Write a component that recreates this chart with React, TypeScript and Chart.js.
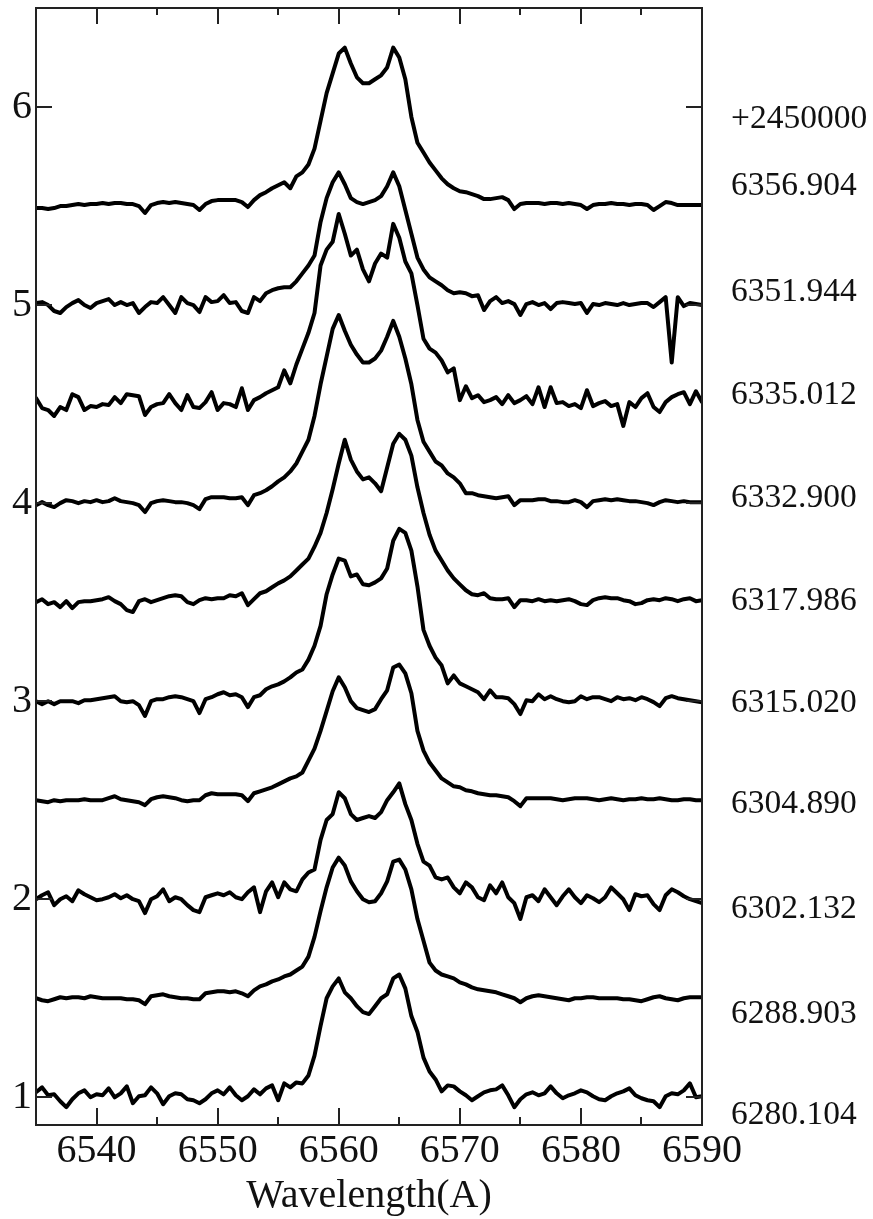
import { useEffect, useRef } from "react";
import { Chart, registerables } from "chart.js";

Chart.register(...registerables);

// Wavelength sampling of every spectrum (Angstrom)
const WL_START = 6535;
const WL_STEP = 0.5;

// Axis ranges and ticks
const X_MIN = 6535;
const X_MAX = 6590;
const Y_MIN = 0.86;
const Y_MAX = 6.5;
const X_MAJOR = [6540, 6550, 6560, 6570, 6580, 6590];
const X_MINOR = [6545, 6555, 6565, 6575, 6585];
const Y_TICKS = [1, 2, 3, 4, 5, 6];

// Observation epochs (HJD - 2450000), vertical offsets and label heights
const JD_ZERO_LABEL = "+2450000";
const JD_ZERO_Y = 5.939;
const EPOCHS = ["6356.904", "6351.944", "6335.012", "6332.900", "6317.986", "6315.020", "6304.890", "6302.132", "6288.903", "6280.104"];
const OFFSETS = [5.5, 5.0, 4.5, 4.0, 3.5, 3.0, 2.5, 2.0, 1.5, 1.0];
const LABEL_Y = [5.6, 5.064, 4.543, 4.027, 3.506, 2.989, 2.478, 1.951, 1.42, 0.909];

// Relative flux above continuum, in units of 0.01
const FLUX_SCALE = 0.01;

const FLUX_6356_904 = [
  -1, -1, -1.5, -1, 0, 0, 0.5, 1, 0.5, 1,
  1, 1.5, 1, 1.5, 1.5, 1, 1, 0, -3.5, 0.5,
  1.5, 2, 1.5, 2, 1.5, 1, 0.5, -2, 1, 2.5,
  3, 3, 3, 3, 2, -0.5, 3, 5.5, 7, 9,
  10.5, 12, 9, 15, 17, 21, 29, 43, 57, 67,
  77, 80, 72, 65, 62, 62, 64, 66, 70, 80,
  75, 64, 45, 32, 27, 22, 18, 14, 11, 9,
  7.5, 7, 6, 5, 3.5, 3.5, 4, 4.5, 3, -1.5,
  1, 1.5, 1.5, 1.5, 1, 1.5, 1.5, 1, 1.5, 1,
  0.5, -1.5, 0.5, 1, 1, 1.5, 1, 1, 0.5, 1,
  1, 0.5, -2, 0, 2, 1.5, 0.5, 0.5, 0.5, 0.5, 0.5,
];

const FLUX_6351_944 = [
  1, 1.5, 0, -3, -4, -1, 1, 2.5, 0, -1.5,
  1, 2, 3, 0, 1.5, 0, 1, -4, -1, 1.5,
  1, 4, 0, -4, 4, 1, 0, -3.5, 4, 1.5,
  2, 5, 1, 1.5, -3, -4, 4, 2, 6, 7.5,
  8.5, 9, 9, 12, 16, 20, 25, 42, 54, 62,
  67, 61, 54, 52, 51, 52, 53, 55, 60, 67,
  60, 48, 36, 24, 18, 14, 12, 10, 7.5, 6,
  6.5, 6, 4.5, 5, -2.5, 2, 4, 1, 2, 0.5,
  -5, 0.5, 1.5, 0, 1, -2, 1, 1.5, 1, 0.5,
  1, -4, 0.5, 0, 1, 0.5, 0, 1, 0, 0.5,
  1, 1, -1, 1.5, 4, -29, 4, -0.5, 1, 0.5, 0,
];

const FLUX_6335_012 = [
  3, -2, -3, -6, -1.5, -3, 5, 3.5, -3, -1,
  -1.5, 0, -0.5, 3.5, 0.5, 5, 4.5, 4, -5.5, -1.5,
  0, 0.5, 5, 0.5, -3, 4.5, -1.5, -2, 1, 6,
  -3, 0.5, 0, -1.5, 8, -3, 2, 3.5, 5.5, 7,
  8.5, 17, 10.5, 20, 28, 36, 46, 70, 78, 82,
  96, 86, 75, 78, 68, 62, 71, 76, 74, 91,
  84, 72, 66, 50, 33, 28, 26, 22, 16, 18,
  2, 9, 3, 4.5, 1, 2, 3.5, 0, 4.5, 0.5,
  2, 4, 0, 8.5, -1.5, 8.5, 0.5, 1, -1, 0,
  -2, 7, -1, 0.5, 1.5, -1, 0, -11, 1, -1.5,
  3, 5.5, -1.5, -4, 1, 3.5, 5, 6, 0, 6.5, 1,
];

const FLUX_6332_900 = [
  -1, 0.5, -1, -2, 0, 1.5, 1, 0, 1, 0.5,
  1.5, 0.5, 1, 2.5, 1, 0.5, 0, -1, -4.5, 0,
  1, 1.5, 1, 0.5, 0.5, 0, -1, -3, 2, 3,
  3, 3, 2.5, 2.5, 3, -1, 4, 5, 6.5, 8.5,
  11, 13, 16, 20, 26, 32, 44, 60, 74, 88,
  95, 87, 80, 75, 71, 71, 73, 77, 84, 92,
  84, 73, 60, 42, 31, 26, 21, 19, 15, 13,
  10, 5, 5, 4, 3.5, 3, 2.5, 3, 3.5, -1,
  1.5, 1.5, 1.5, 2, 2, 1, 1, 0.5, 0.5, 1.5,
  0.5, -2, 1, 1.5, 2, 1.5, 2, 1.5, 1, 1,
  0.5, 0, -1, 0.5, 1.5, 1, 0.5, 1, 0.5, 0.5, 0.5,
];

const FLUX_6317_986 = [
  0, 1.5, -1, 0, -2.5, 0.5, -3, 0, 0.5, 0.5,
  1, 1.5, 2.5, 0.5, -1, -4, -5, 0.5, 1.5, 0,
  1, 2, 3, 3.5, 3, 0, -1, 1, 2, 1.5,
  2, 2, 3.5, 3, 4.5, -1.5, 1.5, 4.5, 5.5, 7.5,
  9.5, 11, 13, 16, 19, 22, 28, 35, 45, 57,
  70, 82, 72, 66, 62, 63, 60, 56, 68, 80,
  85, 82, 74, 58, 45, 34, 26, 21, 16, 12,
  9, 6, 4, 3.5, 4.5, 2, 1.5, 1.5, 2, -2.5,
  1, 1, 0.5, 1.5, 0.5, 1, 0.5, 1, 1.5, 0.5,
  -1, -1.5, 1, 2, 2.5, 2, 2, 1, 0.5, -1,
  -0.5, 1, 1.5, 1, 2, 1.5, 0.5, 1.5, 2, 0.5, 1,
];

const FLUX_6315_020 = [
  0, -1.5, 0, -1.5, 0, 0, 0, -1, 0.5, 0.5,
  1, 1.5, 2, 2.5, 0, -0.5, 0, -2, -7.5, 0,
  1, 1, 2, 2.5, 2, 1, 0, -6, 1, 2,
  3.5, 4.5, 3, 3.5, 2, -3, 2, 3, 6, 7.5,
  8.5, 10, 12, 14.5, 16, 21, 28, 38, 54, 64,
  72, 71, 63, 64, 59, 58.5, 60, 62, 67, 81,
  87, 85, 76, 58, 36, 28, 22, 18, 9, 13,
  9, 7.5, 6, 4.5, 1, 5.5, 2, 2, 1.5, -1.5,
  -6.5, 0.5, 0, 3.5, 1, 2.5, 1, 0, -0.5, 0,
  2.5, 1, 2, 2, 1, 0, 2, 1, 1.5, 0.5,
  2, 1, -0.5, -2.5, 1.5, 2.5, 1.5, 1, 0.5, 0, -0.5,
];

const FLUX_6304_890 = [
  0, -0.5, -1, 0, -0.5, 0, 0, 0, 0.5, 0,
  0, 0, 1, 2, 0.5, 0, -0.5, -1, -2.5, 0.5,
  1.5, 2, 1.5, 1, 0, -0.5, 0, 0, 2.5, 3.5,
  3, 3, 3, 3, 2.5, -0.5, 3.5, 4.5, 5.5, 6.5,
  8, 9.5, 11, 12, 14, 20, 26, 35, 45, 55,
  62, 57, 50, 46.5, 45.5, 44.5, 46, 51, 55.5, 67,
  68.5, 64, 54, 35, 25, 19, 15, 11, 9, 7,
  6.5, 5, 4.5, 3.5, 3, 2.5, 2.5, 2, 1.5, -0.5,
  -3, 1, 1, 1, 1, 1, 0.5, 0, 0.5, 1,
  1, 1, 0.5, 0, 0.5, 1, 0.5, 0, 0.5, 0.5,
  1, 0.5, 0.5, 1, 0.5, 0, 0, 0.5, 0.5, 0, 0,
];

const FLUX_6302_132 = [
  0, 2, 3.5, -3, 0, 1.5, -1, 4.5, 2.5, 1,
  -0.5, 0, 1, 2.5, 0.5, 2, 0, -1, -7, 0,
  1.5, 5, -1, 1, 0, -3, -5.5, -6.5, 1, 2,
  3, 2, 3.5, 1, 0, 3.5, 6, -6.5, 4, 8.5,
  1, 8.5, 5, 4, 10, 13.5, 15, 30, 40, 43,
  54, 51, 43, 40, 41, 42, 41, 44, 50, 54,
  58.5, 48, 40, 28, 19, 17, 11, 10, 11, 6,
  3, 8.5, 6, 1, -0.5, 7, 3, 8.5, 1, -2,
  -10, 1, 2, -1, 5, 1, -3, 1.5, 5, 1,
  -2, 2, 0.5, -1.5, 1, 6, 3, 0, -5.5, 2.5,
  1.5, 2, -2.5, -5.5, 2, 5, 3.5, 1.5, 0, -1, -2,
];

const FLUX_6288_903 = [
  0, -1, -1.5, -0.5, 0.5, 0, 0.5, 0.5, 0, 1,
  0.5, 0, 0, 0, 0, -0.5, -0.5, -1, -3, 1,
  1.5, 2, 1, 0.5, 0, 0, -0.5, -0.5, 2.5, 3,
  3.5, 3.5, 3, 3.5, 2.5, 1, 4, 6, 7, 8.5,
  9.5, 11, 12, 14, 16, 21, 31, 44, 56, 66,
  71, 67, 59, 54, 50, 48.5, 49, 53, 59, 69,
  70, 65, 55, 40, 29, 18, 14, 12, 11, 10,
  8, 7, 5.5, 4.5, 4, 3.5, 3, 2, 1, 0,
  -2, 0, 1, 1.5, 1, 0.5, 0, -0.5, -1, 0,
  0, 0.5, 0.5, 0, 0, 0, 0, -0.5, -0.5, -1,
  -1.5, -0.5, 0.5, 1, 0, -0.5, -1, 0, 0.5, 0.5, 0.5,
];

const FLUX_6280_104 = [
  2.5, 5, 1, 1.5, -2, -5, -1, 2, 3.5, 0,
  1.5, 1, 4.5, 0, 2, 5.5, -3, 0.5, 1, 5,
  2, -3.5, 0.5, 2, 1.5, -1, -1.5, -3, -1, 2,
  3.5, 1.5, 5, 1, -1.5, 0.5, 4, 1.5, 4.5, 6,
  -1.5, 7, 5, 7.5, 7, 11, 21, 36, 50, 56,
  60, 53, 50, 46, 43, 42, 46, 50, 52, 60,
  62, 55, 41, 33, 20, 13, 9, 3, 6, 5.5,
  3, 1, -1.5, 0.5, 2.5, 3.5, 4, 6, 1, -5,
  -1, 1.5, 2.5, 1, 2, 5.5, 2, -0.5, 1, 2,
  3.5, 2.5, 0.5, -1, -1.5, 0.5, 2, 3, 4.5, 1,
  -0.5, -1.5, -2, -5, 0.5, 2, 1.5, 3.5, 7, 0, 0.5,
];

const FLUXES = [
  FLUX_6356_904, FLUX_6351_944, FLUX_6335_012, FLUX_6332_900, FLUX_6317_986,
  FLUX_6315_020, FLUX_6304_890, FLUX_6302_132, FLUX_6288_903, FLUX_6280_104,
];

const SERIF = '"Liberation Serif", "Times New Roman", serif';
const INK = "#111";

// Frame with inward ticks, epoch labels and the axis title
const framePlugin = {
  id: "spectraFrame",
  afterDatasetsDraw(chart: any) {
    const { ctx, chartArea: a, scales } = chart;
    const x = scales.x;
    const y = scales.y;
    ctx.save();
    ctx.strokeStyle = "#222";
    ctx.lineWidth = 2;
    ctx.strokeRect(a.left, a.top, a.right - a.left, a.bottom - a.top);
    ctx.beginPath();
    for (const v of X_MAJOR) {
      const px = Math.round(x.getPixelForValue(v));
      ctx.moveTo(px, a.bottom);
      ctx.lineTo(px, a.bottom - 17);
      ctx.moveTo(px, a.top);
      ctx.lineTo(px, a.top + 16);
    }
    for (const v of X_MINOR) {
      const px = Math.round(x.getPixelForValue(v));
      ctx.moveTo(px, a.bottom);
      ctx.lineTo(px, a.bottom - 8);
      ctx.moveTo(px, a.top);
      ctx.lineTo(px, a.top + 7);
    }
    for (const v of Y_TICKS) {
      const py = Math.round(y.getPixelForValue(v));
      ctx.moveTo(a.left, py);
      ctx.lineTo(a.left + 16, py);
      ctx.moveTo(a.right, py);
      ctx.lineTo(a.right - 16, py);
    }
    ctx.stroke();

    ctx.fillStyle = INK;
    ctx.font = `33.5px ${SERIF}`;
    ctx.textAlign = "left";
    ctx.textBaseline = "middle";
    const lx = a.right + 29;
    ctx.fillText(JD_ZERO_LABEL, lx, y.getPixelForValue(JD_ZERO_Y));
    EPOCHS.forEach((t, i) => ctx.fillText(t, lx, y.getPixelForValue(LABEL_Y[i])));

    ctx.font = `40px ${SERIF}`;
    ctx.textAlign = "center";
    ctx.textBaseline = "alphabetic";
    ctx.fillText("Wavelength(A)", (a.left + a.right) / 2, a.bottom + 82);
    ctx.restore();
  },
};

export default function App() {
  const ref = useRef<HTMLCanvasElement | null>(null);

  useEffect(() => {
    if (!ref.current) return;
    const datasets = FLUXES.map((flux, k) => ({
      label: EPOCHS[k],
      data: flux.map((f, i) => ({ x: WL_START + i * WL_STEP, y: OFFSETS[k] + f * FLUX_SCALE })),
      borderColor: "#000",
      borderWidth: 4,
      borderJoinStyle: "round" as const,
      borderCapStyle: "round" as const,
      pointRadius: 0,
      tension: 0,
      fill: false,
    }));

    const chart = new Chart(ref.current, {
      type: "line",
      data: { datasets },
      options: {
        animation: false,
        responsive: false,
        devicePixelRatio: 1,
        layout: { padding: { left: 0, right: 171, top: 8, bottom: 0 } },
        plugins: { legend: { display: false }, tooltip: { enabled: false } },
        scales: {
          x: {
            type: "linear",
            min: X_MIN,
            max: X_MAX,
            grid: { display: false, drawTicks: false },
            border: { display: false },
            afterBuildTicks: (s: any) => {
              s.ticks = X_MAJOR.map((v) => ({ value: v }));
            },
            afterFit: (s: any) => {
              s.height = 94;
              s.paddingLeft = 0;
              s.paddingRight = 0;
              s.paddingTop = 0;
              s.paddingBottom = 0;
            },
            ticks: {
              autoSkip: false,
              maxRotation: 0,
              padding: 2,
              color: INK,
              font: { family: SERIF, size: 40 },
              callback: (v: any) => String(v),
            },
          },
          y: {
            type: "linear",
            min: Y_MIN,
            max: Y_MAX,
            grid: { display: false, drawTicks: false },
            border: { display: false },
            afterBuildTicks: (s: any) => {
              s.ticks = Y_TICKS.map((v) => ({ value: v }));
            },
            afterFit: (s: any) => {
              s.width = 36;
              s.paddingLeft = 0;
              s.paddingRight = 0;
              s.paddingTop = 0;
              s.paddingBottom = 0;
            },
            ticks: {
              padding: 4,
              color: INK,
              font: { family: SERIF, size: 40 },
              callback: (v: any) => String(v),
            },
          },
        },
      },
      plugins: [framePlugin],
    });
    return () => chart.destroy();
  }, []);

  return (
    <canvas
      ref={ref}
      width={873}
      height={1219}
      style={{ position: "absolute", left: 0, top: 0, width: 873, height: 1219 }}
    />
  );
}
